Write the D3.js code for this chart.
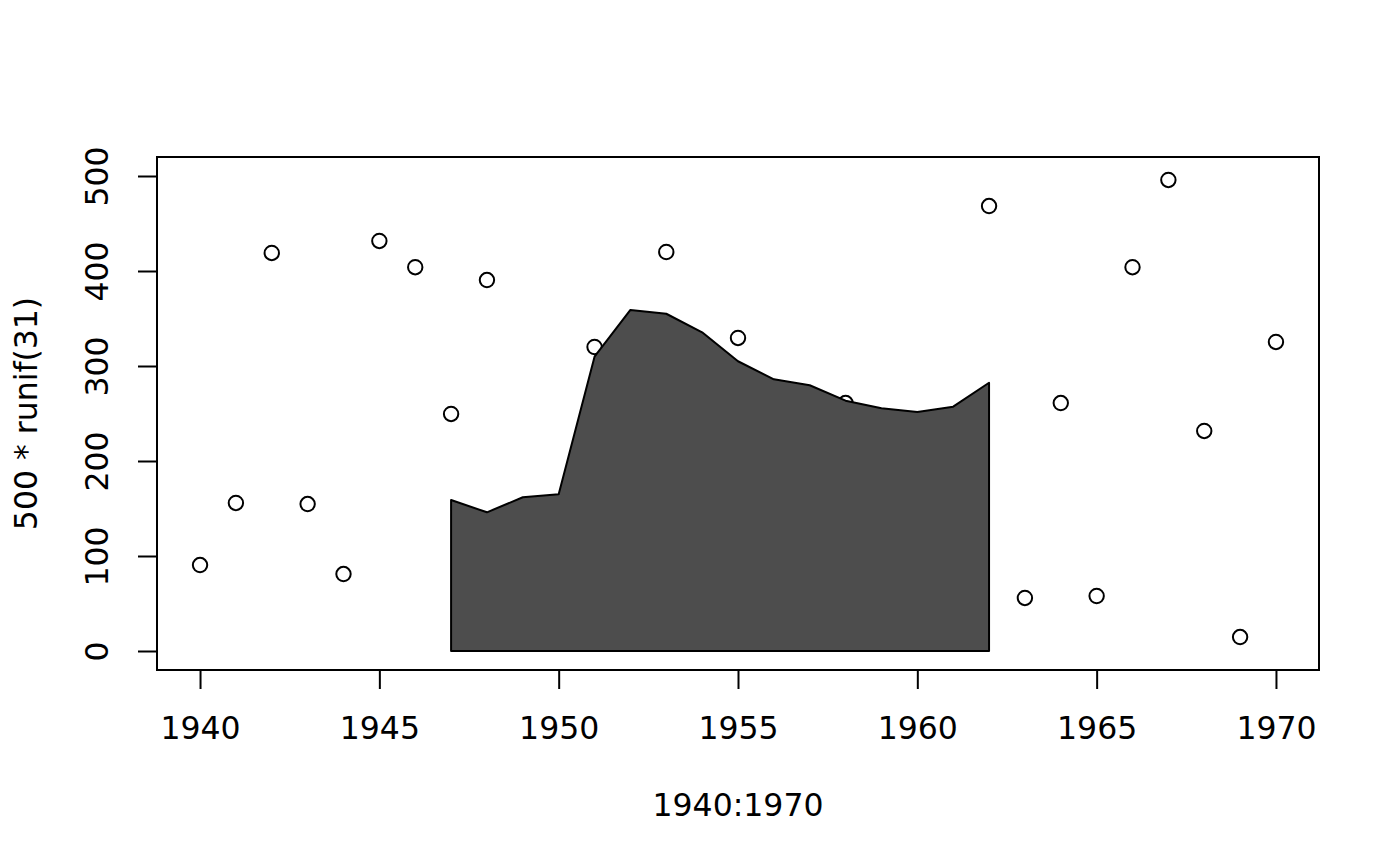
<!DOCTYPE html>
<html><head><meta charset="utf-8">
<script src="https://cdn.jsdelivr.net/npm/d3@7"></script>
<style>body{margin:0;background:#fff}svg{display:block}text{font-family:"DejaVu Sans",sans-serif;fill:#000}</style>
</head><body>
<svg id="c" width="1400" height="866"></svg>
<script>
// Scatter points: years 1940..1970; null = hidden behind the polygon (not readable)
const years = d3.range(1940, 1971);
const values = [90.5,155.8,419,154.7,81,431.6,404,249.5,390.5,null,
                null,320,null,420,null,329.5,null,null,261,null,
                null,null,468.4,55.8,261,57.9,404,495.8,231.6,14.7,325.3];
// Polygon (filled area) years and top values
const polyYears = d3.range(1947, 1963);
const polyValues = [158.9,146,161.8,165,309.8,359,355,335.5,305,286,279.7,263.5,255.5,251.6,257.2,282.4];
const xTicks = [1940,1945,1950,1955,1960,1965,1970];
const yTicks = [0,100,200,300,400,500];
const xLabel = "1940:1970";
const yLabel = "500 * runif(31)";

const L=157, R=1319, T=157, B=670;
const FS = 31.5;
const x = d3.scaleLinear().domain([1938.8,1971.2]).range([L,R]);
const y = d3.scaleLinear().domain([-20,520]).range([B,T]);
const svg = d3.select("#c");

// points
const pts = years.map((yr,i)=>({yr, v: values[i]})).filter(d=>d.v!==null);
svg.append("g").selectAll("circle").data(pts).join("circle")
  .attr("cx",d=>x(d.yr)).attr("cy",d=>y(d.v)).attr("r",7.2)
  .attr("fill","none").attr("stroke","#000").attr("stroke-width",2);

// polygon
const polyPts = polyYears.map((yr,i)=>[x(yr), y(polyValues[i])]);
polyPts.push([x(polyYears[polyYears.length-1]), y(0)]);
polyPts.push([x(polyYears[0]), y(0)]);
svg.append("path").attr("d", "M"+polyPts.map(p=>p.join(",")).join("L")+"Z")
  .attr("fill","#4d4d4d").attr("stroke","#000").attr("stroke-width",2).attr("stroke-linejoin","round");

// box
svg.append("rect").attr("x",L).attr("y",T).attr("width",R-L).attr("height",B-T)
  .attr("fill","none").attr("stroke","#000").attr("stroke-width",2);

// x axis
const xa = svg.append("g").attr("transform",`translate(0,${B})`)
  .call(d3.axisBottom(x).tickValues(xTicks).tickSize(19).tickPadding(0).tickFormat(d3.format("d")));
xa.select(".domain").attr("d",`M${x(1940)},0H${x(1970)}`).attr("stroke-width",2);
xa.selectAll(".tick line").attr("stroke-width",2);
xa.selectAll(".tick text").attr("font-size",FS).attr("font-family","DejaVu Sans").attr("y",69).attr("dy",0).attr("fill","#000");

// y axis
const ya = svg.append("g").attr("transform",`translate(${L},0)`)
  .call(d3.axisLeft(y).tickValues(yTicks).tickSize(19).tickFormat(d3.format("d")));
ya.select(".domain").attr("d",`M0,${y(0)}V${y(500)}`).attr("stroke-width",2);
ya.selectAll(".tick line").attr("stroke-width",2);
ya.selectAll(".tick text").attr("font-size",FS).attr("font-family","DejaVu Sans")
  .attr("x",0).attr("dy",0).attr("text-anchor","middle").attr("fill","#000")
  .attr("transform","translate(-49,0) rotate(-90)");

// titles
svg.append("text").attr("x",(L+R)/2).attr("y",816).attr("text-anchor","middle").attr("font-size",FS).text(xLabel);
svg.append("text").attr("transform",`translate(37,${(T+B)/2}) rotate(-90)`).attr("text-anchor","middle").attr("font-size",FS).text(yLabel);
</script>
</body></html>
